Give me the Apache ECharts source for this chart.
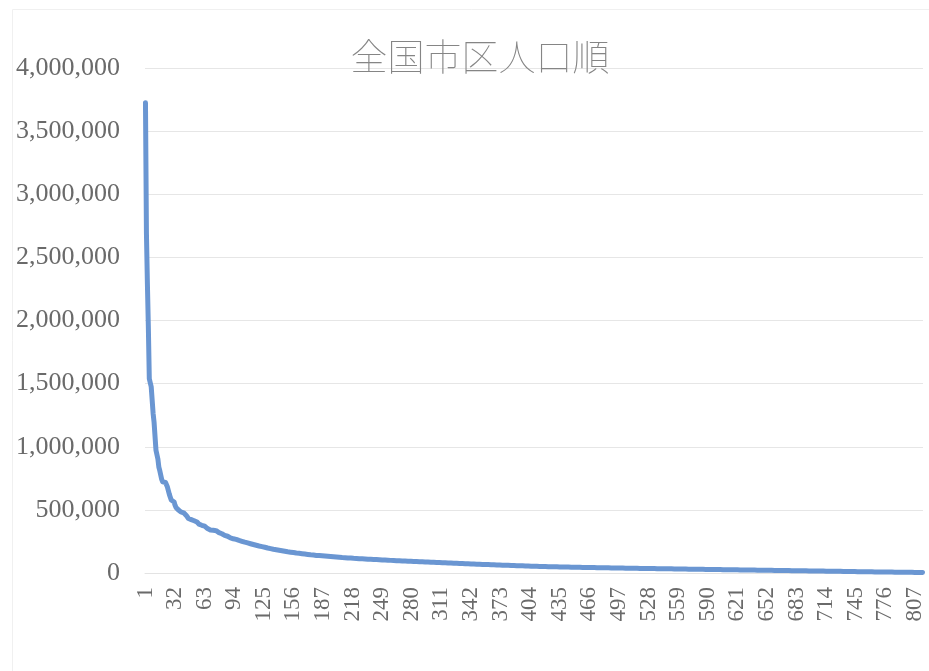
<!DOCTYPE html>
<html>
<head>
<meta charset="utf-8">
<script src="https://cdn.jsdelivr.net/npm/echarts@6/dist/echarts.min.js"></script>
<style>
  html, body { margin: 0; padding: 0; background: #fff; }
  #chart { width: 929px; height: 671px; }
</style>
</head>
<body>
<div id="chart"></div>
<script>
// Population of every city and Tokyo special ward, ranked, in thousands of people
const popRank1to30 = [3725, 2691, 2296, 1952, 1539, 1537, 1475, 1475, 1264, 1194, 1082, 972, 961, 903, 839, 810, 798, 741, 722, 721, 719, 717, 705, 681, 670, 623, 600, 578, 578, 564];
const popRank31to90 = [
  562, 536, 519, 515, 503, 498, 488, 484, 482, 478, 477, 466, 465, 453, 443, 432, 430, 424, 423, 421, 419, 414, 407, 407, 404, 395, 387, 381, 381, 378,
  375, 374, 371, 364, 360, 352, 351, 350, 341, 340, 339, 338, 337, 336, 335, 334, 328, 320, 319, 316, 311, 307, 305, 298, 294, 293, 291, 288, 280, 278
];
const popRank91to180 = [
  277, 275, 271, 269, 267, 266, 264, 262, 258, 256, 254, 251, 248, 246, 244, 242, 240, 238, 236, 234, 232, 230, 228, 226, 224, 222, 220, 218, 216, 214,
  212, 210, 209, 207, 205, 204, 202, 200, 198, 196, 194, 193, 191, 190, 188, 187, 185, 184, 182, 181, 180, 178, 177, 176, 174, 173, 172, 170, 169, 168,
  167, 166, 165, 164, 163, 162, 161, 160, 158, 158, 157, 156, 155, 154, 153, 152, 151, 150, 149, 148, 147, 146, 145, 144, 143, 143, 142, 141, 140, 139
];
const popRank181to300 = [
  139, 138, 138, 137, 136, 136, 135, 134, 134, 133, 132, 132, 131, 130, 130, 129, 128, 128, 127, 127, 126, 125, 125, 124, 124, 123, 122, 122, 121, 121,
  120, 120, 119, 119, 118, 118, 117, 117, 116, 116, 115, 115, 114, 114, 113, 113, 112, 112, 112, 111, 111, 110, 110, 109, 109, 109, 108, 108, 107, 107,
  107, 106, 106, 105, 105, 105, 104, 104, 103, 103, 103, 102, 102, 101, 101, 101, 100, 100, 100, 99, 99, 99, 98, 98, 98, 97, 97, 97, 96, 96,
  96, 95, 95, 95, 94, 94, 94, 93, 93, 93, 92, 92, 92, 91, 91, 91, 90, 90, 90, 89, 89, 89, 88, 88, 88, 87, 87, 87, 86, 86
];
const popRank301to540 = [
  86, 85, 85, 85, 84, 84, 84, 83, 83, 83, 82, 82, 82, 81, 81, 81, 80, 80, 80, 79, 79, 79, 78, 78, 78, 77, 77, 77, 76, 76,
  76, 75, 75, 75, 74, 74, 74, 73, 73, 73, 72, 72, 72, 71, 71, 71, 70, 70, 70, 69, 69, 69, 69, 68, 68, 68, 67, 67, 67, 67,
  66, 66, 66, 65, 65, 65, 65, 64, 64, 64, 63, 63, 63, 63, 62, 62, 62, 61, 61, 61, 61, 60, 60, 60, 60, 59, 59, 59, 58, 58,
  58, 58, 57, 57, 57, 57, 56, 56, 56, 56, 55, 55, 55, 55, 54, 54, 54, 54, 53, 53, 53, 53, 52, 52, 52, 52, 51, 51, 51, 51,
  51, 51, 50, 50, 50, 50, 50, 49, 49, 49, 49, 49, 48, 48, 48, 48, 48, 48, 47, 47, 47, 47, 47, 47, 46, 46, 46, 46, 46, 46,
  45, 45, 45, 45, 45, 45, 45, 44, 44, 44, 44, 44, 44, 44, 43, 43, 43, 43, 43, 43, 43, 43, 42, 42, 42, 42, 42, 42, 42, 42,
  41, 41, 41, 41, 41, 41, 41, 40, 40, 40, 40, 40, 40, 40, 40, 39, 39, 39, 39, 39, 39, 39, 39, 38, 38, 38, 38, 38, 38, 38,
  37, 37, 37, 37, 37, 37, 37, 37, 36, 36, 36, 36, 36, 36, 36, 36, 36, 35, 35, 35, 35, 35, 35, 35, 35, 35, 34, 34, 34, 34
];
const popRank541to815 = [
  34, 34, 34, 34, 34, 33, 33, 33, 33, 33, 33, 33, 33, 32, 32, 32, 32, 32, 32, 32, 32, 31, 31, 31, 31, 31, 31, 31, 31, 30,
  30, 30, 30, 30, 30, 30, 30, 30, 29, 29, 29, 29, 29, 29, 29, 29, 29, 28, 28, 28, 28, 28, 28, 28, 28, 28, 27, 27, 27, 27,
  27, 27, 27, 27, 27, 26, 26, 26, 26, 26, 26, 26, 26, 26, 25, 25, 25, 25, 25, 25, 25, 25, 25, 24, 24, 24, 24, 24, 24, 24,
  24, 24, 23, 23, 23, 23, 23, 23, 23, 23, 23, 22, 22, 22, 22, 22, 22, 22, 22, 22, 21, 21, 21, 21, 21, 21, 21, 21, 21, 20,
  20, 20, 20, 20, 20, 20, 20, 20, 19, 19, 19, 19, 19, 19, 19, 19, 19, 18, 18, 18, 18, 18, 18, 18, 18, 18, 17, 17, 17, 17,
  17, 17, 17, 17, 17, 16, 16, 16, 16, 16, 16, 16, 16, 16, 15, 15, 15, 15, 15, 15, 15, 15, 14, 14, 14, 14, 14, 14, 14, 14,
  14, 13, 13, 13, 13, 13, 13, 13, 13, 12, 12, 12, 12, 12, 12, 12, 12, 11, 11, 11, 11, 11, 11, 11, 11, 11, 10, 10, 10, 10,
  10, 10, 10, 10, 9, 9, 9, 9, 9, 9, 9, 9, 9, 8, 8, 8, 8, 8, 8, 8, 8, 8, 8, 7, 7, 7, 7, 7, 7, 7,
  7, 7, 7, 7, 7, 6, 6, 6, 6, 6, 6, 6, 6, 6, 6, 5, 5, 5, 5, 5, 5, 5, 5, 5, 5, 4, 4, 4, 4, 4, 4, 4, 4, 4, 3.6
];

const chartTitle = '全国市区人口順';
const yTicks = [0, 500000, 1000000, 1500000, 2000000, 2500000, 3000000, 3500000, 4000000];

const populationK = [].concat(popRank1to30, popRank31to90, popRank91to180, popRank181to300, popRank301to540, popRank541to815);
const population = populationK.map(function (v) { return Math.round(v * 1000); });
const ranks = population.map(function (_, i) { return String(i + 1); });

const chart = echarts.init(document.getElementById('chart'), null, { renderer: 'canvas' });

const serif = '"Liberation Serif", "DejaVu Serif", serif';

chart.setOption({
  backgroundColor: '#ffffff',
  animation: false,
  title: {
    text: chartTitle,
    left: 475,
    top: 33,
    textAlign: 'center',
    textStyle: {
      fontFamily: '"Noto Sans CJK JP", sans-serif',
      fontSize: 37,
      fontWeight: 'lighter',
      color: '#858585'
    }
  },
  graphic: [{
    type: 'rect',
    silent: true,
    shape: { x: 12.5, y: 9.5, width: 1000, height: 1000 },
    style: { fill: 'none', stroke: '#f0f0f0', lineWidth: 1 }
  }],
  grid: { left: 145, right: 6, top: 68, bottom: 98, containLabel: false },
  xAxis: {
    type: 'category',
    data: ranks,
    boundaryGap: true,
    axisLine: { show: true, lineStyle: { color: '#e3e3e3', width: 1 } },
    axisTick: { show: false },
    axisLabel: {
      interval: 30,
      rotate: 90,
      margin: 14,
      fontFamily: serif,
      fontSize: 23,
      color: '#6a6a6a'
    },
    splitLine: { show: false }
  },
  yAxis: {
    type: 'value',
    min: yTicks[0],
    max: yTicks[yTicks.length - 1],
    interval: yTicks[1] - yTicks[0],
    axisLine: { show: false },
    axisTick: { show: false },
    axisLabel: {
      margin: 25,
      fontFamily: serif,
      fontSize: 26,
      color: '#6a6a6a',
      formatter: function (v) { return v.toLocaleString('en-US'); }
    },
    splitLine: { lineStyle: { color: '#e6e6e6', width: 1 } }
  },
  series: [{
    type: 'line',
    data: population,
    showSymbol: false,
    symbol: 'none',
    smooth: false,
    lineStyle: { color: '#6a96d2', width: 5, cap: 'round', join: 'round' }
  }]
});
</script>
</body>
</html>
